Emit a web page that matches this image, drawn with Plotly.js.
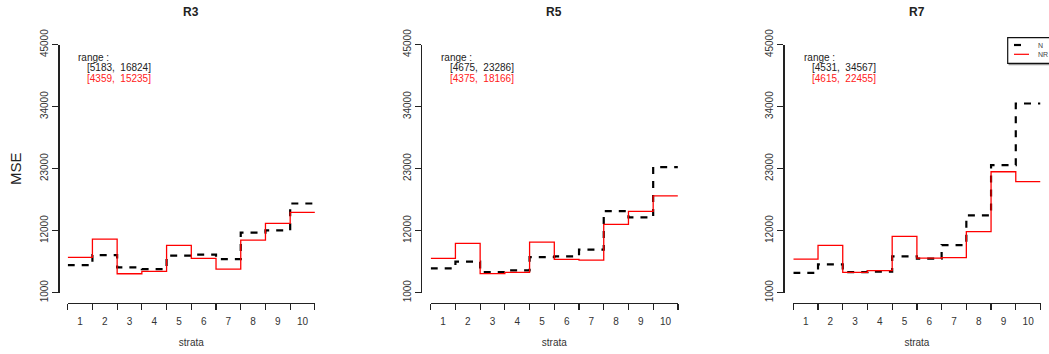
<!DOCTYPE html>
<html>
<head>
<meta charset="utf-8">
<script src="https://cdn.plot.ly/plotly-3.0.1.min.js"></script>
<style>html,body{margin:0;padding:0;background:#fff;}#chart{width:1049px;height:354px;}</style>
</head>
<body>
<div id="chart"></div>
<script>
// ---- data ----
const strata = ['1','2','3','4','5','6','7','8','9','10'];
const panels = ['R3', 'R5', 'R7'];
const seriesNames = ['N', 'NR'];
const yTicks = [1000, 12000, 23000, 34000, 45000];

const R3_N  = [5909, 7683, 5495, 5183, 7565, 7742, 6973, 11645, 12059, 16824];
const R3_NR = [7269, 10521, 4359, 4785, 9398, 7091, 5199, 10344, 13301, 15235];
const R5_N  = [5317, 6500, 4675, 4962, 7328, 7446, 8629, 15489, 14366, 23286];
const R5_NR = [7091, 9753, 4375, 4608, 9989, 6914, 6796, 13124, 15430, 18166];
const R7_N  = [4531, 6027, 4667, 4726, 7446, 7032, 9457, 14720, 23651, 34567];
const R7_NR = [6973, 9398, 4615, 4903, 10995, 7151, 7210, 11823, 22455, 20694];

const rangeN  = [[5183, 16824], [4675, 23286], [4531, 34567]];
const rangeNR = [[4359, 15235], [4375, 18166], [4615, 22455]];

// ---- layout geometry (pixels) ----
const W = 1049, H = 354;
const xStart = [67.7, 430.7, 793.3];
const yAxisX = [58.3, 421, 783.3];
const plotW = 247.2;
const yTop = 44.7, yBot = 292.7, xAxisY = 302.7;
const FONT = 'Liberation Sans, Arial, sans-serif';

const seriesData = [[R3_N, R3_NR], [R5_N, R5_NR], [R7_N, R7_NR]];
const styles = [
  {color: '#000000', width: 2.2, dash: '7px,7px'},
  {color: '#ff0000', width: 1.3, dash: 'solid'}
];

const px = v => v / W;
const py = v => 1 - v / H;

const traces = [];
const layout = {
  width: W, height: H,
  margin: {l: 0, r: 0, t: 0, b: 0, autoexpand: false},
  paper_bgcolor: '#fff', plot_bgcolor: 'rgba(0,0,0,0)',
  showlegend: false,
  font: {family: FONT, color: '#222'},
  annotations: [], shapes: []
};

const boundaries = strata.map((_, i) => i).concat([strata.length]);
const centers = strata.map((_, i) => i + 0.5);

panels.forEach((name, k) => {
  const sfx = k === 0 ? '' : String(k + 1);
  seriesData[k].forEach((vals, s) => {
    traces.push({
      type: 'scatter', mode: 'lines', name: seriesNames[s],
      x: boundaries,
      y: vals.concat([vals[vals.length - 1]]),
      line: {shape: 'hv', color: styles[s].color, width: styles[s].width, dash: styles[s].dash},
      xaxis: 'x' + sfx, yaxis: 'y' + sfx, hoverinfo: 'skip'
    });
  });
  layout['xaxis' + sfx] = {
    domain: [px(xStart[k]), px(xStart[k] + plotW)],
    range: [0, strata.length], anchor: 'free', position: py(xAxisY),
    showline: true, linecolor: '#222', linewidth: 1.4,
    showgrid: false, zeroline: false,
    tickmode: 'array', tickvals: centers, ticktext: strata,
    ticks: 'outside', ticklen: 6, tickcolor: 'rgba(0,0,0,0)',
    ticklabelstandoff: 3,
    minor: {tickmode: 'array', tickvals: boundaries, ticks: 'outside', ticklen: 6, tickcolor: '#222', tickwidth: 1.2, showgrid: false},
    tickfont: {family: FONT, size: 10, color: '#333'},
    title: {text: 'strata', font: {family: FONT, size: 10, color: '#333'}, standoff: 13},
    fixedrange: true
  };
  layout['yaxis' + sfx] = {
    domain: [py(yBot), py(yTop)],
    range: [yTicks[0], yTicks[yTicks.length - 1]], anchor: 'free', position: px(yAxisX[k]),
    showline: true, linecolor: '#222', linewidth: 1.3,
    showgrid: false, zeroline: false,
    tickmode: 'array', tickvals: yTicks, ticktext: yTicks.map(String),
    ticks: 'outside', ticklen: 6, tickcolor: '#222', tickwidth: 1.2,
    tickangle: -90,
    tickfont: {family: FONT, size: 10, color: '#333'},
    title: k === 0 ? {text: 'MSE', font: {family: FONT, size: 15, color: '#222'}, standoff: 12} : {text: ''},
    fixedrange: true
  };
  // panel title
  layout.annotations.push({
    xref: 'paper', yref: 'paper', x: px(xStart[k] + plotW / 2), y: py(12),
    xanchor: 'center', yanchor: 'middle', showarrow: false,
    text: name, font: {family: FONT, size: 12, color: '#222', weight: 'bold'}
  });
  // range text
  layout.annotations.push({
    xref: 'paper', yref: 'paper', x: px(xStart[k] + 8.5), y: py(57),
    xanchor: 'left', yanchor: 'middle', showarrow: false,
    text: 'range :', font: {family: FONT, size: 10, color: '#222'}
  });
  layout.annotations.push({
    xref: 'paper', yref: 'paper', x: px(xStart[k] + 17), y: py(67.7),
    xanchor: 'left', yanchor: 'middle', showarrow: false,
    text: '[' + rangeN[k][0] + ',\u00a0 ' + rangeN[k][1] + ']', font: {family: FONT, size: 10, color: '#222'}
  });
  layout.annotations.push({
    xref: 'paper', yref: 'paper', x: px(xStart[k] + 17), y: py(78.5),
    xanchor: 'left', yanchor: 'middle', showarrow: false,
    text: '[' + rangeNR[k][0] + ',\u00a0 ' + rangeNR[k][1] + ']', font: {family: FONT, size: 10, color: '#ff2020'}
  });
});

// legend box (partly off the right edge, as in the reference)
layout.shapes.push({type: 'line', xref: 'paper', yref: 'paper', x0: px(1008.5), x1: px(1070), y0: py(64.3), y1: py(64.3), line: {color: '#999', width: 2}});
layout.shapes.push({type: 'rect', xref: 'paper', yref: 'paper', x0: px(1007.7), x1: px(1070), y0: py(63.3), y1: py(37.7), line: {color: '#111', width: 1.2}, fillcolor: '#fff'});
layout.shapes.push({type: 'line', xref: 'paper', yref: 'paper', x0: px(1014), x1: px(1021), y0: py(45), y1: py(45), line: {color: styles[0].color, width: 2.2}});
layout.shapes.push({type: 'line', xref: 'paper', yref: 'paper', x0: px(1014), x1: px(1029), y0: py(54.3), y1: py(54.3), line: {color: styles[1].color, width: 1.2}});
seriesNames.forEach((n, s) => {
  layout.annotations.push({
    xref: 'paper', yref: 'paper', x: px(1035.5), y: py(s === 0 ? 45 : 54.3),
    xanchor: 'left', yanchor: 'middle', showarrow: false,
    text: n, font: {family: FONT, size: 7, color: '#444'}
  });
});

Plotly.newPlot('chart', traces, layout, {displayModeBar: false, staticPlot: true});
</script>
</body>
</html>
